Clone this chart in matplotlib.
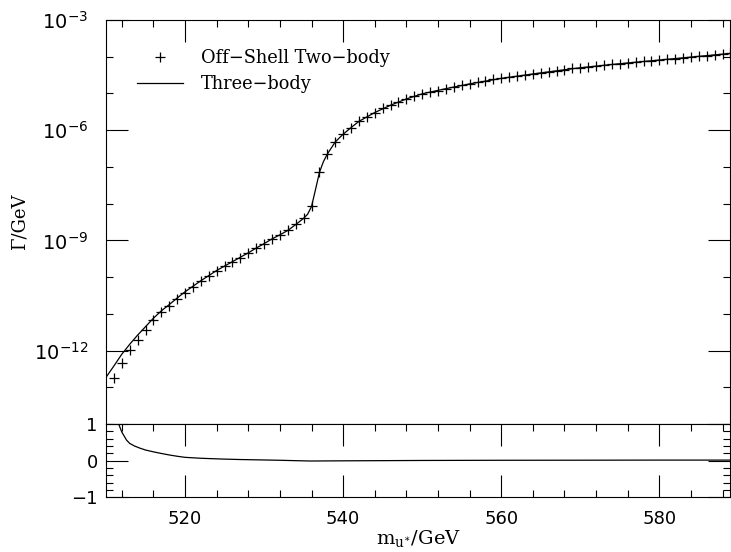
import matplotlib.pyplot as plt
import matplotlib.ticker as mticker
import numpy as np

# off-shell two-body width, log10(Gamma/GeV), one point per GeV
two_mass = [511, 512, 513, 514, 515, 516, 517, 518, 519, 520,
            521, 522, 523, 524, 525, 526, 527, 528, 529, 530,
            531, 532, 533, 534, 535, 536, 537, 538, 539, 540,
            541, 542, 543, 544, 545, 546, 547, 548, 549, 550,
            551, 552, 553, 554, 555, 556, 557, 558, 559, 560,
            561, 562, 563, 564, 565, 566, 567, 568, 569, 570,
            571, 572, 573, 574, 575, 576, 577, 578, 579, 580,
            581, 582, 583, 584, 585, 586, 587, 588, 589]
two_logw = [-12.75, -12.35, -11.98, -11.70, -11.44, -11.18, -10.96, -10.78, -10.59, -10.43,
            -10.27, -10.11, -9.97, -9.83, -9.71, -9.59, -9.47, -9.35, -9.21, -9.09,
            -8.96, -8.86, -8.73, -8.56, -8.39, -8.06, -7.15, -6.65, -6.32, -6.11,
            -5.93, -5.76, -5.64, -5.52, -5.41, -5.32, -5.23, -5.15, -5.07, -5.01,
            -4.96, -4.92, -4.87, -4.83, -4.78, -4.74, -4.70, -4.66, -4.62, -4.59,
            -4.56, -4.53, -4.50, -4.47, -4.44, -4.41, -4.38, -4.35, -4.32, -4.30,
            -4.27, -4.25, -4.23, -4.21, -4.19, -4.17, -4.15, -4.13, -4.11, -4.09,
            -4.07, -4.05, -4.03, -4.01, -3.99, -3.97, -3.95, -3.93, -3.91]

# three-body width, log10(Gamma/GeV)
three_mass = [510, 511, 512, 513, 514, 515, 516, 517, 518, 519,
              520, 521, 522, 523, 524, 525, 526, 527, 528, 529,
              530, 531, 532, 533, 534, 535, 535.5, 536, 536.5, 537,
              537.5, 538, 539, 540, 541, 542, 544, 546, 548, 550,
              553, 556, 560, 565, 570, 575, 580, 585, 589]
three_logw = [-12.73, -12.42, -12.10, -11.83, -11.58, -11.35, -11.12, -10.92, -10.75, -10.57,
              -10.40, -10.25, -10.10, -9.96, -9.82, -9.70, -9.58, -9.46, -9.34, -9.21,
              -9.09, -8.96, -8.85, -8.73, -8.57, -8.40, -8.29, -8.08, -7.62, -7.15,
              -6.86, -6.65, -6.32, -6.11, -5.93, -5.76, -5.52, -5.32, -5.15, -5.01,
              -4.87, -4.74, -4.59, -4.44, -4.30, -4.19, -4.09, -3.99, -3.91]

# lower panel: relative difference three-body vs two-body
ratio_mass = [510, 510.5, 511, 511.6, 512, 512.6, 513, 513.6, 514.3, 515,
              516, 516.9, 518, 519, 520, 522, 524.5, 527, 529.6, 532,
              535.8, 540, 545, 550, 560, 570, 580, 589]
ratio_vals = [2.6, 1.9, 1.35, 1.0, 0.78, 0.56, 0.47, 0.40, 0.34, 0.29,
              0.24, 0.20, 0.155, 0.12, 0.09, 0.065, 0.045, 0.03, 0.02, 0.01,
              -0.01, -0.005, 0.0, 0.005, 0.01, 0.012, 0.015, 0.015]

plt.rcParams['font.family'] = 'DejaVu Sans'
plt.rcParams['mathtext.fontset'] = 'dejavuserif'

fig = plt.figure(figsize=(7.31, 5.52), dpi=100)
ax = fig.add_axes([0.145, 0.2319, 0.8543, 0.7319])
axr = fig.add_axes([0.145, 0.0991, 0.8543, 0.1328], sharex=ax)

ax.plot(two_mass, 10.0**np.array(two_logw), '+', color='black', ms=6.5, mew=0.9,
        label='Off\u2212Shell Two\u2212body')
ax.plot(three_mass, 10.0**np.array(three_logw), '-', color='black', lw=0.9,
        label='Three\u2212body')
axr.plot(ratio_mass, ratio_vals, '-', color='black', lw=0.9)

ax.set_yscale('log')
ax.set_xlim(510, 589)
ax.set_ylim(1e-14, 1e-3)
ax.set_yticks([1e-12, 1e-9, 1e-6, 1e-3])
ax.set_yticks([10.0**-k for k in range(3, 15)], minor=True)
ax.yaxis.set_minor_formatter(mticker.NullFormatter())
ax.yaxis.set_major_formatter(mticker.FuncFormatter(
    lambda v, _: r'$\mathregular{10^{%d}}$' % round(np.log10(v))))

axr.set_ylim(-1, 1)
axr.set_yticks([-1, 0, 1])
axr.set_yticks(np.linspace(-1, 1, 11), minor=True)
axr.set_xticks([520, 540, 560, 580])
axr.set_xticks(range(512, 590, 4), minor=True)

for a in (ax, axr):
    for s in a.spines.values():
        s.set_linewidth(0.8)
    a.tick_params(which='both', direction='in', top=True, right=True, width=0.8,
                  labelsize=13)
    a.tick_params(which='major', length=16)
    a.tick_params(which='minor', length=5)
ax.tick_params(which='both', bottom=False, labelbottom=False)
ax.tick_params(axis='y', pad=13, labelsize=14)
axr.tick_params(axis='y', pad=6)
axr.tick_params(axis='x', pad=9)

ax.set_ylabel('\u0393/GeV', family='DejaVu Serif', fontsize=13)
axr.set_xlabel(r'$\mathregular{m_{u^{\ast}}}$/GeV', family='DejaVu Serif', fontsize=14)
axr.xaxis.set_label_coords(0.5, -0.42)
ax.yaxis.set_label_coords(-0.124, 0.5)

ax.legend(loc='upper left', bbox_to_anchor=(0.03, 0.958), frameon=False,
          prop={'family': 'DejaVu Serif', 'size': 12.8}, handlelength=2.6,
          handletextpad=1.0, labelspacing=0.42, borderaxespad=0.3)

fig.savefig('out.png', dpi=100)
